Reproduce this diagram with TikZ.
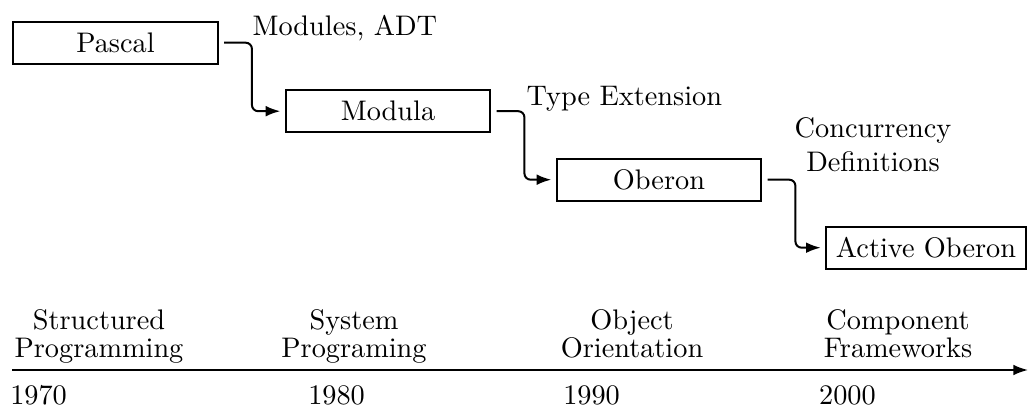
\documentclass[tikz,border=0pt]{standalone}
\usetikzlibrary{arrows.meta}
\begin{document}
\begin{tikzpicture}[x=0.3534pt,y=-0.3534pt,
  box/.style={draw, line width=0.7pt, minimum width=72.4pt, minimum height=14.8pt, inner sep=0pt},
  conn/.style={line width=0.7pt, rounded corners=2.2pt, -{Latex[length=5.2pt,width=3.8pt]}, shorten <=1.8pt, shorten >=1.5pt},
  lbl/.style={inner sep=0pt},
  tl/.style={inner sep=0pt, anchor=north, align=center},
  yr/.style={inner sep=0pt, anchor=base west}]
\useasboundingbox (0,0) rectangle (1029,407);
% boxes
\node[box] (P) at (115.5,42.7) {Pascal};
\node[box] (M) at (388,111.2) {Modula};
\node[box] (O) at (659,179.7) {Oberon};
\node[box, minimum width=70.7pt] (A) at (926,247.7) {Active Oberon};
% connectors
\draw[conn] (P.east) -- ++(33,0) |- (M.west);
\draw[conn] (M.east) -- ++(33,0) |- (O.west);
\draw[conn] (O.east) -- ++(33,0) |- (A.west);
% connector labels
\node[lbl, anchor=base west] (l1) at (252,36) {Modules, ADT};
\node[lbl, anchor=base west] (l2) at (526,106) {Type Extension};
\node[lbl, anchor=north, align=center] (l3) at (873,117) {Concurrency\\Definitions};
% timeline
\coordinate (ax0) at (12,370);
\coordinate (ax1) at (1028,370);
\draw[line width=0.7pt, -{Latex[length=5.2pt,width=3.8pt]}] (ax0) -- (ax1);
\node[tl] (t1) at (99,308.5) {Structured\\[-2pt]Programming};
\node[tl] (t2) at (354,308.5) {System\\[-2pt]Programing};
\node[tl] (t3) at (632,308.5) {Object\\[-2pt]Orientation};
\node[tl] (t4) at (898,308.5) {Component\\[-2pt]Frameworks};
\node[yr] (y1) at (9.7,405) {1970};
\node[yr] (y2) at (307.7,405) {1980};
\node[yr] (y3) at (562.7,405) {1990};
\node[yr] (y4) at (818.6,405) {2000};
\end{tikzpicture}
\end{document}
